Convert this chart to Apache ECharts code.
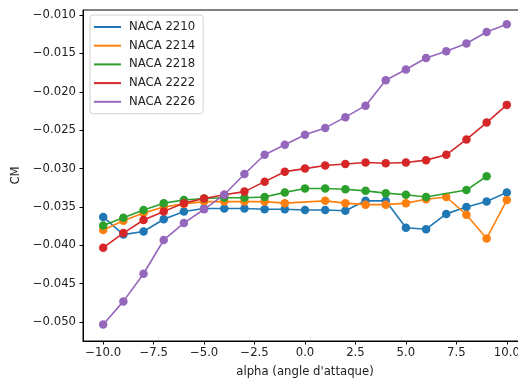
<!DOCTYPE html>
<html>
<head>
<meta charset="utf-8">
<script src="https://cdn.jsdelivr.net/npm/echarts@6/dist/echarts.min.js"></script>
<style>html,body{margin:0;padding:0;background:#fff;}#c{width:518px;height:379px;}</style>
</head>
<body>
<div id="c"></div>
<script>
var seriesNames = ['NACA 2210', 'NACA 2214', 'NACA 2218', 'NACA 2222', 'NACA 2226'];
var xTicks = [-10, -7.5, -5, -2.5, 0, 2.5, 5, 7.5, 10];
var yTicks = [-0.050, -0.045, -0.040, -0.035, -0.030, -0.025, -0.020, -0.015, -0.010];

var alpha2210 = [-10,-9,-8,-7,-6,-5,-4,-3,-2,-1,0,1,2,3,4,5,6,7,8,9,10];
var cm2210 = [-0.0363,-0.0386,-0.0382,-0.0366,-0.0356,-0.0352,-0.0352,-0.0352,-0.0353,-0.0353,-0.0354,-0.0354,-0.0355,-0.0342,-0.0342,-0.0377,-0.0379,-0.0359,-0.0350,-0.0343,-0.0331];

var alpha2214 = [-10,-9,-8,-7,-6,-5,-4,-3,-2,-1,1,2,3,4,5,6,7,8,9,10];
var cm2214 = [-0.0380,-0.0368,-0.0358,-0.0350,-0.0346,-0.0343,-0.0343,-0.0343,-0.0343,-0.0345,-0.0342,-0.0345,-0.0347,-0.0347,-0.0345,-0.0340,-0.0337,-0.0360,-0.0391,-0.0341];

var alpha2218 = [-10,-9,-8,-7,-6,-5,-4,-3,-2,-1,0,1,2,3,4,5,6,8,9];
var cm2218 = [-0.0374,-0.0364,-0.0354,-0.0345,-0.0341,-0.0339,-0.0338,-0.0338,-0.0337,-0.0331,-0.0326,-0.0326,-0.0327,-0.0329,-0.0332,-0.0334,-0.0337,-0.0328,-0.0310];

var alpha2222 = [-10,-9,-8,-7,-6,-5,-4,-3,-2,-1,0,1,2,3,4,5,6,7,8,9,10];
var cm2222 = [-0.0403,-0.0384,-0.0367,-0.0356,-0.0345,-0.0339,-0.0334,-0.0330,-0.0317,-0.0304,-0.0300,-0.0296,-0.0294,-0.0292,-0.0293,-0.0292,-0.0289,-0.0282,-0.0262,-0.0240,-0.0217];

var alpha2226 = [-10,-9,-8,-7,-6,-5,-4,-3,-2,-1,0,1,2,3,4,5,6,7,8,9,10];
var cm2226 = [-0.0503,-0.0473,-0.0437,-0.0393,-0.0371,-0.0353,-0.0334,-0.0307,-0.0282,-0.0269,-0.0256,-0.0247,-0.0233,-0.0218,-0.0185,-0.0171,-0.0156,-0.0147,-0.0137,-0.0122,-0.0112];

var colors = ['#1f77b4', '#ff7f0e', '#2ca02c', '#d62728', '#9467bd'];
var alphas = [alpha2210, alpha2214, alpha2218, alpha2222, alpha2226];
var cms = [cm2210, cm2214, cm2218, cm2222, cm2226];

function pairs(xs, ys) { return xs.map(function (x, i) { return [x, ys[i]]; }); }
function fmt(v, d) { return (v < 0 ? '\u2212' : '') + Math.abs(v).toFixed(d); }

var FONT = 'DejaVu Sans';
var chart = echarts.init(document.getElementById('c'), null, { renderer: 'canvas' });
chart.setOption({
  animation: false,
  color: colors,
  textStyle: { fontFamily: FONT },
  grid: { left: 83, right: -9, top: 10, bottom: 38, containLabel: false, outerBoundsMode: 'none',
          show: true, borderColor: '#000', borderWidth: 1, backgroundColor: 'transparent' },
  legend: {
    orient: 'vertical', left: 90, top: 15,
    data: seriesNames.map(function (n) { return { name: n, icon: 'rect' }; }),
    itemWidth: 27, itemHeight: 2, itemGap: 4.7,
    padding: [5, 8, 5, 4],
    backgroundColor: 'rgba(255,255,255,0.8)', borderColor: '#d0d0d0', borderWidth: 1, borderRadius: 3,
    textStyle: { fontFamily: FONT, fontSize: 11.7, color: '#222', lineHeight: 14, padding: [0, 0, 0, 3] }
  },
  xAxis: {
    type: 'value', min: -11, max: 11,
    name: "alpha (angle d'attaque)", nameLocation: 'middle', nameGap: 25,
    nameTextStyle: { fontFamily: FONT, fontSize: 11.7, color: '#222' },
    axisLine: { show: true, onZero: false, lineStyle: { color: '#000', width: 1 } },
    axisTick: { show: true, length: 3.5, inside: false, customValues: xTicks, lineStyle: { color: '#000' } },
    axisLabel: { customValues: xTicks, margin: 6, fontFamily: FONT, fontSize: 11.7, color: '#222', formatter: function (v) { return fmt(v, 1); } },
    splitLine: { show: false }
  },
  yAxis: {
    type: 'value', min: -0.05246, max: -0.00934,
    name: 'CM', nameLocation: 'middle', nameGap: 56, nameRotate: 90,
    nameTextStyle: { fontFamily: FONT, fontSize: 11.7, color: '#222' },
    axisLine: { show: true, onZero: false, lineStyle: { color: '#000', width: 1 } },
    axisTick: { show: true, length: 3.5, inside: false, customValues: yTicks, lineStyle: { color: '#000' } },
    axisLabel: { customValues: yTicks, margin: 7, fontFamily: FONT, fontSize: 11.7, color: '#222', formatter: function (v) { return fmt(v, 3); } },
    splitLine: { show: false }
  },
  series: seriesNames.map(function (n, i) {
    return {
      name: n, type: 'line', data: pairs(alphas[i], cms[i]),
      symbol: 'circle', symbolSize: 8.5, showSymbol: true,
      lineStyle: { width: 1.6, color: colors[i] },
      itemStyle: { color: colors[i] },
      emphasis: { disabled: true },
      z: 2 + i
    };
  })
});
</script>
</body>
</html>
